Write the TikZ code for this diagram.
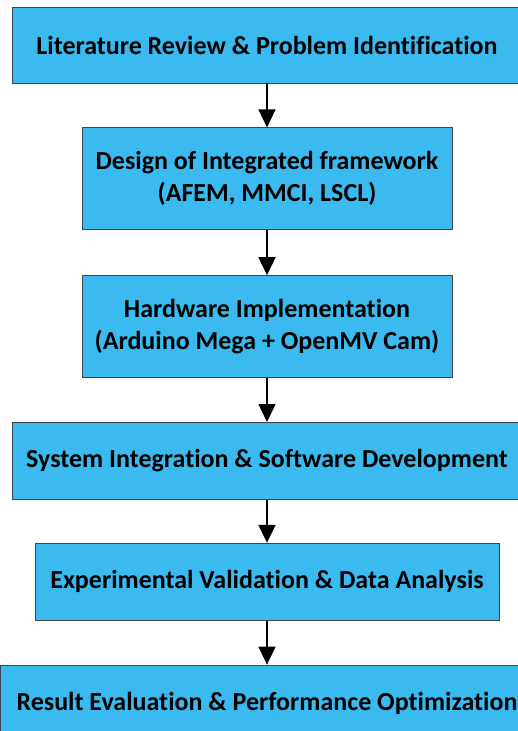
\documentclass[tikz,border=0pt]{standalone}
\usepackage{fontspec}
\setmainfont[RawFeature=-liga]{Carlito}
\usetikzlibrary{positioning,arrows.meta}

\definecolor{stepblue}{RGB}{59,186,240}
\definecolor{stepline}{RGB}{60,70,80}

\begin{document}
\begin{tikzpicture}[x=1pt,y=-1pt,
  stepbox/.style={draw=stepline, line width=0.8pt, fill=stepblue, align=center,
    inner sep=0pt, font=\fontsize{26}{32}\selectfont\bfseries},
  flow/.style={-{Triangle[length=18pt,width=17pt]}, line width=1.6pt}]
\useasboundingbox (0,0) rectangle (518,731);
\clip (0,0) rectangle (518,731);

% boxes
\node[stepbox, minimum width=510pt, minimum height=76pt] (lit) at (267,45) {Literature Review \& Problem Identification};
\node[stepbox, minimum width=370pt, minimum height=102pt, below=44pt of lit] (design) {Design of Integrated framework\\(AFEM, MMCI, LSCL)};
\node[stepbox, minimum width=370pt, minimum height=102pt, below=45pt of design] (hw) {Hardware Implementation\\(Arduino Mega + OpenMV Cam)};
\node[stepbox, minimum width=510pt, minimum height=77pt, below=44pt of hw] (sys) {System Integration \& Software Development};
\node[stepbox, minimum width=464pt, minimum height=77pt, below=43pt of sys] (exp) {Experimental Validation \& Data Analysis};
\node[stepbox, minimum width=534pt, minimum height=77pt, below=44pt of exp] (res) {Result Evaluation \& Performance Optimization};

% arrows
\draw[flow] (lit) -- (design);
\draw[flow] (design) -- (hw);
\draw[flow] (hw) -- (sys);
\draw[flow] (sys) -- (exp);
\draw[flow] (exp) -- (res);

\end{tikzpicture}
\end{document}
